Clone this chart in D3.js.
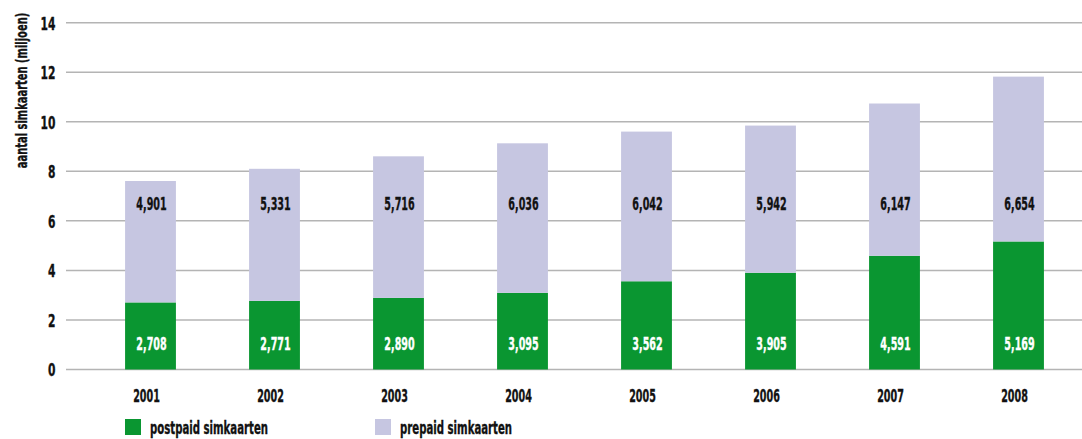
<!DOCTYPE html>
<html>
<head>
<meta charset="utf-8">
<script src="https://cdn.jsdelivr.net/npm/d3@7"></script>
<style>
  html, body { margin: 0; padding: 0; background: #fff; }
  svg { display: block; }
  text { font-family: "DejaVu Sans Condensed", "DejaVu Sans", sans-serif; font-weight: bold; }
</style>
</head>
<body>
<svg id="chart" width="1082" height="439"></svg>
<script>
// Mobile SIM cards in the Netherlands, in thousands
const years = ["2001", "2002", "2003", "2004", "2005", "2006", "2007", "2008"];
const postpaid = [2708, 2771, 2890, 3095, 3562, 3905, 4591, 5169];
const prepaid = [4901, 5331, 5716, 6036, 6042, 5942, 6147, 6654];
const yTicks = [0, 2, 4, 6, 8, 10, 12, 14];
const seriesNames = ["postpaid simkaarten", "prepaid simkaarten"];
const colors = ["#0a9631", "#c6c6e1"];

const FONT = "'DejaVu Sans Condensed', 'DejaVu Sans', sans-serif";
const FS = 17.5;
// horizontal squeeze to get a tall, narrow typeface look
const SX_NUM = 0.61, SX_TICK = 0.68, SX_LEG = 0.645, SX_TITLE = 0.69;
const INK = "#111";

const svg = d3.select("#chart");

const x = d3.scaleBand()
  .domain(years)
  .range([88.5, 1080.5])
  .paddingInner(0.59)
  .paddingOuter(0.295);

const y = d3.scaleLinear()
  .domain([0, 14])
  .range([369.5, 22.7]);

// thicken the squeezed glyph strokes a little
function heavy(sel, color) {
  sel.attr("fill", color).attr("stroke", color).attr("stroke-width", 0.35);
}

// gridlines
svg.append("g").selectAll("line")
  .data(yTicks)
  .join("line")
  .attr("x1", 66).attr("x2", 1082)
  .attr("y1", d => y(d)).attr("y2", d => y(d))
  .attr("stroke", "#b4b4b4")
  .attr("stroke-width", 1.5);

// y tick labels
const yAxis = d3.axisLeft(y).tickValues(yTicks).tickSize(0).tickPadding(0);
svg.append("g")
  .attr("transform", "translate(55.5,0)")
  .call(yAxis)
  .call(g => g.select(".domain").remove())
  .call(g => g.selectAll("text")
    .attr("x", 0)
    .attr("font-size", FS)
    .attr("font-family", FONT)
    .attr("font-weight", "bold")
    .attr("dy", "0.36em")
    .attr("transform", `scale(${SX_TICK},1)`)
    .call(heavy, INK));

// y axis title
svg.append("text")
  .attr("transform", `translate(27,90.5) rotate(-90) scale(${SX_TITLE},1)`)
  .attr("text-anchor", "middle")
  .attr("font-size", 16)
  .call(heavy, INK)
  .text("aantal simkaarten (miljoen)");

// stacked bars
const rows = years.map((yr, i) => ({ year: yr, post: postpaid[i], pre: prepaid[i] }));

const bars = svg.append("g");
bars.selectAll("rect.post")
  .data(rows)
  .join("rect")
  .attr("class", "post")
  .attr("x", d => x(d.year))
  .attr("width", x.bandwidth())
  .attr("y", d => y(d.post / 1000))
  .attr("height", d => y(0) - y(d.post / 1000))
  .attr("fill", colors[0]);

bars.selectAll("rect.pre")
  .data(rows)
  .join("rect")
  .attr("class", "pre")
  .attr("x", d => x(d.year))
  .attr("width", x.bandwidth())
  .attr("y", d => y((d.post + d.pre) / 1000))
  .attr("height", d => y(d.post / 1000) - y((d.post + d.pre) / 1000))
  .attr("fill", colors[1]);

const fmt = d3.format(",");

// value labels
svg.append("g").selectAll("text")
  .data(rows)
  .join("text")
  .attr("transform", d => `translate(${x(d.year) + x.bandwidth() / 2 + 1},350) scale(${SX_NUM},1)`)
  .attr("text-anchor", "middle")
  .attr("font-size", FS)
  .call(heavy, "#fff")
  .text(d => fmt(d.post));

svg.append("g").selectAll("text")
  .data(rows)
  .join("text")
  .attr("transform", d => `translate(${x(d.year) + x.bandwidth() / 2 + 1},210) scale(${SX_NUM},1)`)
  .attr("text-anchor", "middle")
  .attr("font-size", FS)
  .call(heavy, INK)
  .text(d => fmt(d.pre));

// category labels
const xAxis = d3.axisBottom(x).tickSize(0).tickPadding(0);
svg.append("g")
  .attr("transform", "translate(-4,402)")
  .call(xAxis)
  .call(g => g.select(".domain").remove())
  .call(g => g.selectAll("text")
    .attr("y", 0)
    .attr("font-size", FS)
    .attr("font-family", FONT)
    .attr("font-weight", "bold")
    .attr("dy", 0)
    .attr("transform", `scale(${SX_NUM},1)`)
    .call(heavy, INK));

// legend
const legendX = [125, 375];
const legend = svg.append("g").selectAll("g")
  .data(seriesNames)
  .join("g")
  .attr("transform", (d, i) => `translate(${legendX[i]},419)`);
legend.append("rect")
  .attr("width", 16).attr("height", 16)
  .attr("fill", (d, i) => colors[i]);
legend.append("text")
  .attr("transform", `translate(25,15) scale(${SX_LEG},1)`)
  .attr("font-size", FS)
  .call(heavy, INK)
  .text(d => d);
</script>
</body>
</html>
